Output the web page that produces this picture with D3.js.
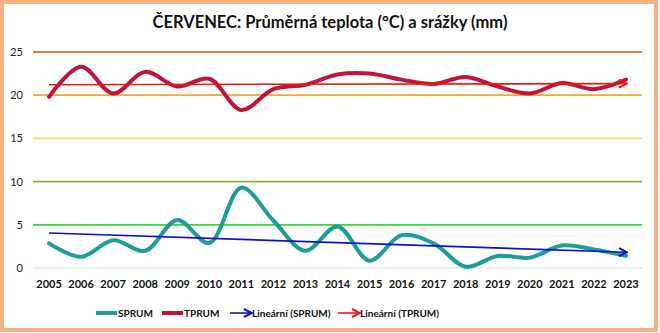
<!DOCTYPE html>
<html>
<head>
<meta charset="utf-8">
<script src="https://cdn.jsdelivr.net/npm/d3@7"></script>
<style>
  body { margin: 0; background: #fff; }
  svg { display: block; font-family: Lato, "Open Sans", sans-serif; }
</style>
</head>
<body>
<svg id="graf" width="660" height="333"></svg>
<script>
const roky = ["2005","2006","2007","2008","2009","2010","2011","2012","2013","2014",
              "2015","2016","2017","2018","2019","2020","2021","2022","2023"];
const sprum = [2.85, 1.3, 3.2, 2.0, 5.55, 2.9, 9.3, 5.5, 2.0, 4.8,
               0.85, 3.8, 2.85, 0.15, 1.4, 1.2, 2.6, 2.15, 1.4];
const tprum = [19.8, 23.3, 20.2, 22.7, 21.0, 21.9, 18.3, 20.7, 21.2, 22.4,
               22.5, 21.8, 21.3, 22.1, 21.0, 20.2, 21.4, 20.7, 21.8];
const yTicks = [0, 5, 10, 15, 20, 25];
const gridBarvy = ["#d9d9d9", "#33dd33", "#8fb03c", "#f2e35a", "#f0a830", "#c98a4b"];

const width = 660, height = 333;
const svg = d3.select("#graf");

// ramecek
svg.append("rect")
    .attr("x", 2).attr("y", 2)
    .attr("width", 654).attr("height", 328)
    .attr("fill", "#fff")
    .attr("stroke", "#f4b183")
    .attr("stroke-width", 4);

svg.append("text")
    .attr("x", 330).attr("y", 28)
    .attr("text-anchor", "middle")
    .attr("font-size", 16.5)
    .attr("font-weight", "bold")
    .attr("fill", "#111")
    .text("ČERVENEC: Průměrná teplota (°C) a srážky (mm)");

const x = d3.scaleBand().domain(roky).range([33, 642]);
const y = d3.scaleLinear().domain([0, 25]).range([268, 52]);

// mrizka
svg.append("g").selectAll("line")
    .data(yTicks)
    .join("line")
    .attr("x1", 33).attr("x2", 642)
    .attr("y1", d => y(d)).attr("y2", d => y(d))
    .attr("stroke", (d, i) => gridBarvy[i])
    .attr("stroke-width", d => d === 0 ? 1 : 1.8);

const yAxis = svg.append("g")
    .attr("transform", "translate(23,0)")
    .call(d3.axisLeft(y).tickValues(yTicks).tickSize(0).tickPadding(0));
yAxis.select(".domain").remove();
yAxis.selectAll("text")
    .attr("font-size", 11)
    .attr("font-family", "Lato, sans-serif")
    .attr("fill", "#222");

const xAxis = svg.append("g")
    .attr("transform", "translate(0,280)")
    .call(d3.axisBottom(x).tickSize(0).tickPadding(0));
xAxis.select(".domain").remove();
xAxis.selectAll("text")
    .attr("dy", "0.71em")
    .attr("font-size", 11)
    .attr("font-weight", "bold")
    .attr("font-family", "Lato, sans-serif")
    .attr("fill", "#111");

const cx = d => x(d) + x.bandwidth() / 2;

// sipky
const defs = svg.append("defs");
[["sipkaModra", "#1010cc"], ["sipkaCervena", "#e01b1b"]].forEach(([id, c]) => {
    defs.append("marker")
        .attr("id", id)
        .attr("viewBox", "0 0 10 10")
        .attr("refX", 8).attr("refY", 5)
        .attr("markerWidth", 10).attr("markerHeight", 10)
        .attr("markerUnits", "userSpaceOnUse")
        .attr("orient", "auto")
        .append("path")
        .attr("d", "M1,1 L9,5 L1,9")
        .attr("fill", "none")
        .attr("stroke", c)
        .attr("stroke-width", 2);
});

const trend = vals => {
    const n = vals.length, mx = (n - 1) / 2, my = d3.mean(vals);
    let sxy = 0, sxx = 0;
    vals.forEach((v, i) => { sxy += (i - mx) * (v - my); sxx += (i - mx) ** 2; });
    const b = sxy / sxx, a = my - b * mx;
    return [a, a + b * (n - 1)];
};

const line = d3.line()
    .x((d, i) => cx(roky[i]))
    .y(d => y(d))
    .curve(d3.curveCatmullRom.alpha(0.5));

svg.append("path").datum(tprum)
    .attr("d", line)
    .attr("fill", "none").attr("stroke", "#c0143c").attr("stroke-width", 4)
    .attr("stroke-linecap", "round");

svg.append("path").datum(sprum)
    .attr("d", line)
    .attr("fill", "none").attr("stroke", "#1e9c96").attr("stroke-width", 4)
    .attr("stroke-linecap", "round");

const trendy = [
    [sprum, "#1010cc", "sipkaModra"],
    [tprum, "#e01b1b", "sipkaCervena"]
];
trendy.forEach(([vals, c, m]) => {
    const [a, b] = trend(vals);
    svg.append("line")
        .attr("x1", cx(roky[0])).attr("y1", y(a))
        .attr("x2", cx(roky[roky.length - 1])).attr("y2", y(b))
        .attr("stroke", c).attr("stroke-width", 1.6)
        .attr("marker-end", `url(#${m})`);
});

// legenda
const legenda = [
    { nazev: "SPRUM", barva: "#1e9c96", typ: "cara", x: 96 },
    { nazev: "TPRUM", barva: "#c0143c", typ: "cara", x: 162 },
    { nazev: "Lineární (SPRUM)", barva: "#1010cc", typ: "sipka", marker: "sipkaModra", x: 230 },
    { nazev: "Lineární (TPRUM)", barva: "#e01b1b", typ: "sipka", marker: "sipkaCervena", x: 338 }
];
const lg = svg.append("g").attr("transform", "translate(0,313)");
legenda.forEach(d => {
    const l = lg.append("line")
        .attr("x1", d.x).attr("x2", d.x + 21)
        .attr("y1", 0).attr("y2", 0)
        .attr("stroke", d.barva);
    if (d.typ === "cara") l.attr("stroke-width", 4);
    else l.attr("stroke-width", 1.6).attr("marker-end", `url(#${d.marker})`);
    lg.append("text")
        .attr("x", d.x + 22).attr("y", 0)
        .attr("dy", "0.35em")
        .attr("font-size", 10)
        .attr("font-weight", "bold")
        .attr("fill", "#111")
        .text(d.nazev);
});
</script>
</body>
</html>
